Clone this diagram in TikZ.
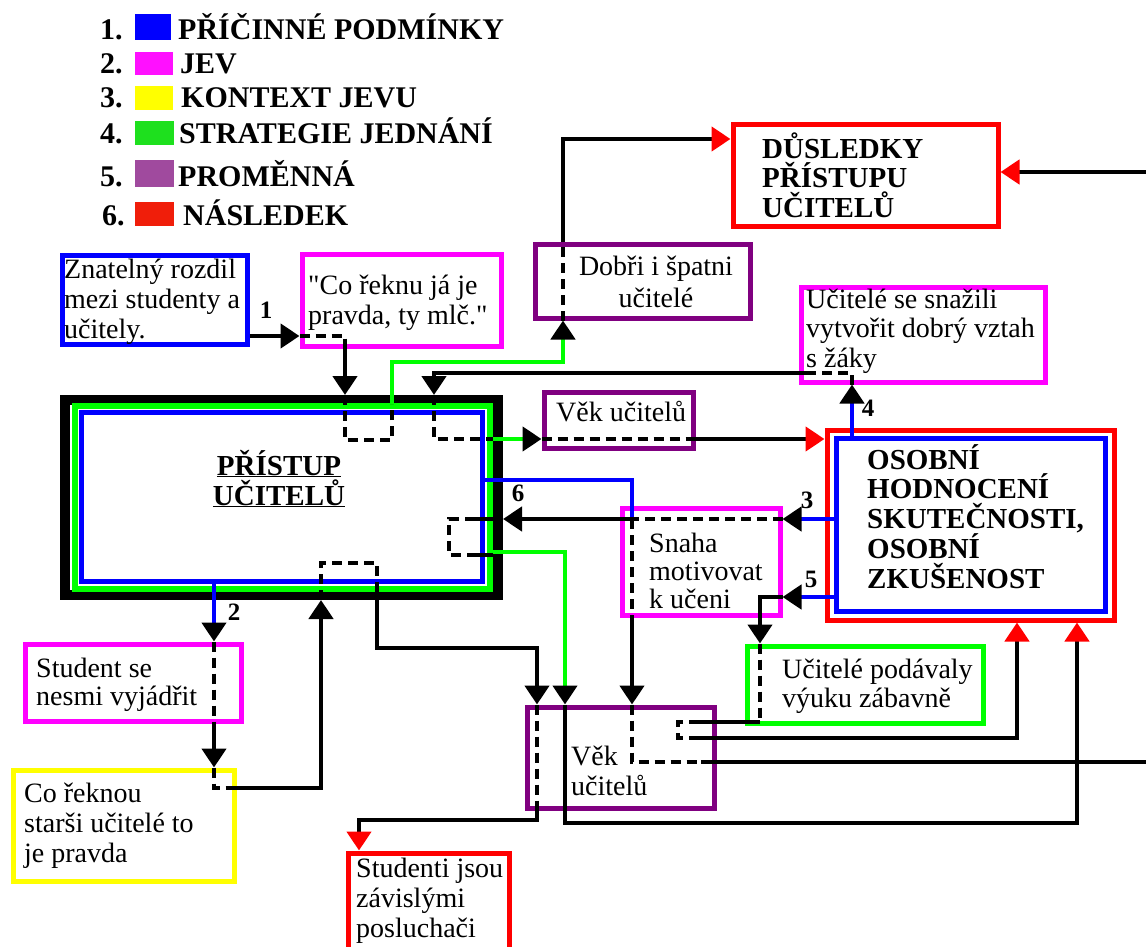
\documentclass[tikz,border=0pt]{standalone}
\usepackage{fontspec}
\setmainfont{Liberation Serif}
\newfontfamily\nolig{Liberation Serif}[Ligatures=NoCommon]
\usetikzlibrary{arrows.meta}
\definecolor{cblue}{HTML}{0000FF}
\definecolor{cmag}{HTML}{FF00FF}
\definecolor{cpur}{HTML}{800080}
\definecolor{cred}{HTML}{FF0000}
\definecolor{cyel}{HTML}{FFFF00}
\definecolor{cgrn}{HTML}{00FF00}
\definecolor{lblue}{HTML}{0000FF}
\definecolor{lmag}{HTML}{FF10FF}
\definecolor{lyel}{HTML}{FFFF00}
\definecolor{lgrn}{HTML}{1EE01E}
\definecolor{lpur}{HTML}{A04A9E}
\definecolor{lred}{HTML}{F01E0A}
\newcommand\rfnt{\fontsize{28}{30}\selectfont}
\newcommand\bfnt{\fontsize{29}{30}\selectfont\bfseries}
\newcommand\ml[2]{\vtop{\baselineskip=#1pt\lineskiplimit=-1000pt\lineskip=0pt\relax #2}}
\newcommand\tline[1]{\hbox{#1}}
\newcommand\ctline[1]{\hbox to 0pt{\hss #1\hss}}
\newcommand\sq{{\nolig\char34}}
\newcommand\mkbox[6]{\node[bx=#6, minimum width={#4-#2}, minimum height={#5-#3}] (#1) at ({(#2+#4)/2},{(#3+#5)/2}) {};}
\begin{document}
\begin{tikzpicture}[x=1pt,y=-1pt,
  bx/.style={draw=#1, line width=5pt, inner sep=0pt},
  conn/.style={line width=4.5pt, black},
  dsh/.style={line width=4.5pt, black, dash pattern=on 10pt off 6pt},
  gline/.style={line width=4.5pt, cgrn},
  bline/.style={line width=4.5pt, cblue},
  arr/.style={-{Triangle[length=19pt,width=24pt,color=#1]}},
  arr/.default=black,
  tx/.style={inner sep=0pt, font=\rfnt},
  btx/.style={inner sep=0pt, font=\bfnt},
  lab/.style={inner sep=0pt, font=\fontsize{25}{25}\selectfont\bfseries},
  leg/.style={inner sep=0pt, font=\fontsize{30}{30}\selectfont\bfseries, anchor=base west}]
\useasboundingbox (0,0) rectangle (1146,947);
\clip (0,0) rectangle (1146,947);

% legend
\node[leg] (n1) at (100,40) {1.};
\fill[lblue] (135,14) rectangle (171,40);
\node[leg] (t1) at (178,40) {PŘÍČINNÉ PODMÍNKY};
\node[leg] (n2) at (100,74) {2.};
\fill[lmag] (135,52) rectangle (173,75);
\node[leg] (t2) at (180,74) {JEV};
\node[leg] (n3) at (100,108) {3.};
\fill[lyel] (135,86) rectangle (173,110);
\node[leg] (t3) at (181,108) {KONTEXT JEVU};
\node[leg] (n4) at (100,144) {4.};
\fill[lgrn] (135,121) rectangle (174,145);
\node[leg] (t4) at (179,144) {STRATEGIE JEDNÁNÍ};
\node[leg] (n5) at (100,186) {5.};
\fill[lpur] (135,160) rectangle (174,187);
\node[leg] (t5) at (178,186) {PROMĚNNÁ};
\node[leg] (n6) at (102,225) {6.};
\fill[lred] (135,202) rectangle (174,226);
\node[leg] (t6) at (183,225) {NÁSLEDEK};

% boxes
\mkbox{bz}{62}{255}{247}{344}{cblue}
\mkbox{bc}{302}{254}{501}{346}{cmag}
\mkbox{bd}{535}{244}{750}{318}{cpur}
\mkbox{bds}{733}{125}{998}{226}{cred}
\mkbox{bu}{801}{287}{1045}{382}{cmag}
\mkbox{bvone}{544}{392}{693}{448}{cpur}
\mkbox{bs}{622}{508}{780}{615}{cmag}
\mkbox{bg}{747}{646}{983}{723}{cgrn}
\mkbox{bvtwo}{527}{707}{714}{808}{cpur}
\mkbox{bst}{25}{644}{241}{721}{cmag}
\mkbox{by}{13}{770}{234}{881}{cyel}
\mkbox{bsd}{348}{853}{509}{990}{cred}
\node[draw=black, line width=10pt, inner sep=0pt, minimum width=433, minimum height=195] (big) at (281.5,497.5) {};
\node[draw=cgrn, line width=6pt, inner sep=0pt, minimum width=415, minimum height=183] (bigg) at (282.5,497.5) {};
\node[draw=cblue, line width=5pt, inner sep=0pt, minimum width=400.5, minimum height=169] (bigb) at (281.75,496.5) {};
\mkbox{bo}{827}{430}{1114}{620}{cred}
\mkbox{bob}{836}{438.5}{1105.5}{611.5}{cblue}

% texts
\node[tx, anchor=base west] (tbz) at (64,278) {\ml{30}{\tline{Znatelný rozdil}\tline{mezi studenty a}\tline{učitely.}}};
\node[tx, anchor=base west] (tbc) at (308,294) {\ml{30}{\tline{\sq Co řeknu já je}\tline{pravda, ty mlč.\sq}}};
\node[tx, anchor=base] (tbd) at (656,275) {\ml{32}{\ctline{Dobři i špatni}\ctline{učitelé}}};
\node[btx, anchor=base west] (tbds) at (762,158) {\ml{29.5}{\tline{DŮSLEDKY}\tline{PŘÍSTUPU}\tline{UČITELŮ}}};
\node[tx, anchor=base west] (tbu) at (806,308) {\ml{29.5}{\tline{Učitelé se snažili}\tline{vytvořit dobrý vztah}\tline{s žáky}}};
\node[tx, anchor=base west] (tbvone) at (556,421) {Věk učitelů};
\node[btx, anchor=base] (tbig) at (279,475) {\ml{30}{\ctline{\underline{PŘÍSTUP}}\ctline{\underline{UČITELŮ}}}};
\node[btx, anchor=base west] (tbo) at (867,469) {\ml{29.75}{\tline{OSOBNÍ}\tline{HODNOCENÍ}\tline{SKUTEČNOSTI,}\tline{OSOBNÍ}\tline{ZKUŠENOST}}};
\node[tx, anchor=base west] (tbs) at (649,552) {\ml{28}{\tline{Snaha}\tline{motivovat}\tline{k učeni}}};
\node[tx, anchor=base west] (tbg) at (782,678) {\ml{29}{\tline{Učitelé podávaly}\tline{výuku zábavně}}};
\node[tx, anchor=base west] (tbvtwo) at (571,765) {\ml{30}{\tline{Věk}\tline{učitelů}}};
\node[tx, anchor=base west] (tbst) at (36,677) {\ml{28}{\tline{Student se}\tline{nesmi vyjádřit}}};
\node[tx, anchor=base west] (tby) at (24,802) {\ml{30}{\tline{Co řeknou}\tline{starši učitelé to}\tline{je pravda}}};
\node[tx, anchor=base west] (tbsd) at (356,877) {\ml{30}{\tline{Studenti jsou}\tline{závislými}\tline{posluchači}}};

% connector 1
\draw[conn,arr] (bz.east|-0,336) -- (bc.west|-0,336);
\draw[dsh] (bc.west|-0,336) -| (bc.south-|345,0);
\draw[conn,arr] (bc.south-|345,0) -- (big.north-|345,0);
\draw[dsh] (big.north-|345,0) -- (345,440) -- (392,440) -- (392,404);
\draw[gline,arr] (392,404) |- (563,362) -- (bd.south-|563,0);
\draw[dsh] (bd.south-|563,0) -- (bd.north-|563,0);
\draw[conn,arr=cred] (bd.north-|563,0) |- (bds.west|-0,139);
% into DUSLEDKY from right
\draw[conn,arr=cred] (1160,172) -- (bds.east|-0,172);

% connector 4
\draw[bline,arr] (bob.north-|852,0) -- (bu.south-|852,0);
\draw[dsh] (bu.south-|852,0) |- (807,373);
\draw[conn,arr] (807,373) -| (big.north-|434,0);
\draw[dsh] (big.north-|434,0) |- (493,439);
\draw[gline,arr] (493,439) -- (bvone.west|-0,439);
\draw[dsh] (bvone.west|-0,439) -- (bvone.east|-0,439);
\draw[conn,arr=cred] (bvone.east|-0,439) -- (bo.west|-0,439);

% blue from big box right
\draw[bline] (bigb.east|-0,480) -| (632,519);
\draw[dsh] (632,519) -- (bs.south-|632,0);
\draw[conn,arr] (bs.south-|632,0) -- (bvtwo.north-|632,0);
\draw[dsh] (bvtwo.north-|632,0) |- (701,762);
\draw[conn] (701,762) -- (1160,762);

% connector 3 / 6
\draw[bline,arr] (bob.west|-0,519) -- (bs.east|-0,519);
\draw[dsh] (bs.east|-0,519) -- (632,519);
\draw[conn,arr] (632,519) -- (big.east|-0,519);
\draw[conn] (big.east|-0,519) -- (475,519);
\draw[dsh] (475,519) -- (449,519) -- (449,555) -- (475,555);
\draw[conn] (475,555) -- (494,555);
\draw[gline,arr] (bigg.east|-0,552) -| (bvtwo.north-|565,0);
\draw[conn,arr=cred] (bvtwo.north-|565,0) |- (1077,823) -- (bo.south-|1077,0);

% connector 5
\draw[bline,arr] (bob.west|-0,597) -- (bs.east|-0,597);
\draw[conn,arr] (bs.east|-0,597) -| (bg.north-|760,0);
\draw[dsh] (bg.north-|760,0) -- (760,722);
\draw[conn] (760,722) -- (699,722);
\draw[dsh] (699,722) -- (678,722) -- (678,738) -- (699,738);
\draw[conn,arr=cred] (699,738) -| (bo.south-|1017,0);

% connector 2
\draw[bline,arr] (bigb.south-|214,0) -- (bst.north-|214,0);
\draw[dsh] (bst.north-|214,0) -- (bst.south-|214,0);
\draw[conn,arr] (bst.south-|214,0) -- (by.north-|214,0);
\draw[dsh] (by.north-|214,0) |- (232,788);
\draw[conn,arr] (232,788) -| (big.south-|321,0);
\draw[dsh] (big.south-|321,0) -- (321,563) -- (377,563) -- (377,582);
\draw[conn,arr] (377,582) |- (537,648) -- (bvtwo.north-|537,0);
\draw[dsh] (bvtwo.north-|537,0) -- (bvtwo.south-|537,0);
\draw[conn,arr=cred] (bvtwo.south-|537,0) |- (359,820) -- (bsd.north-|359,0);

% labels
\node[lab] (lb1) at (266,310) {1};
\node[lab] (lb2) at (234,612) {2};
\node[lab] (lb3) at (807,500) {3};
\node[lab] (lb4) at (868,408) {4};
\node[lab] (lb5) at (811,579) {5};
\node[lab] (lb6) at (518,493) {6};
\end{tikzpicture}
\end{document}
